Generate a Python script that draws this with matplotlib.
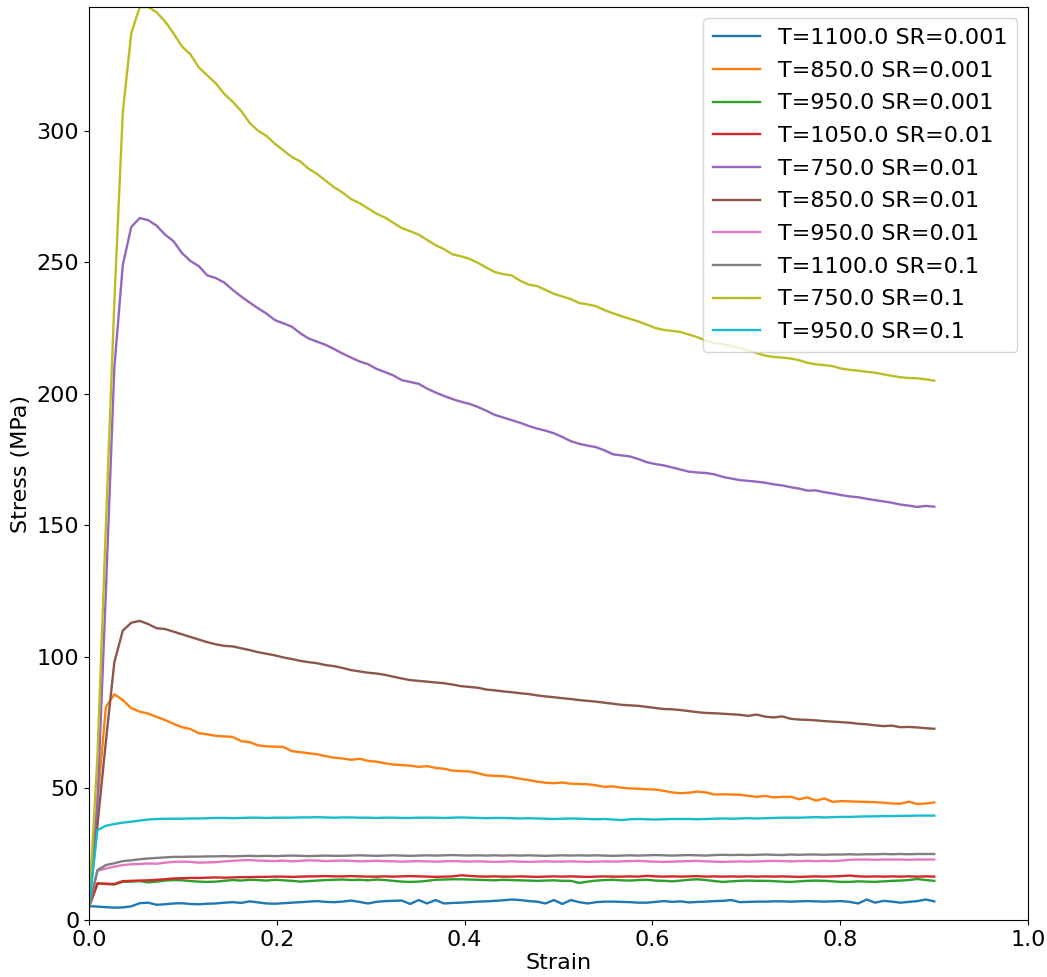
import numpy as np
import matplotlib
matplotlib.use("Agg")
import matplotlib.pyplot as plt

strain = np.linspace(0.0, 0.9, 101)

labels = ["T=1100.0 SR=0.001", "T=850.0 SR=0.001", "T=950.0 SR=0.001",
          "T=1050.0 SR=0.01", "T=750.0 SR=0.01", "T=850.0 SR=0.01",
          "T=950.0 SR=0.01", "T=1100.0 SR=0.1", "T=750.0 SR=0.1",
          "T=950.0 SR=0.1"]

s_1100_0001 = [5.3, 5.1, 4.9, 4.7, 4.8, 5.2, 6.4, 6.6, 5.8, 6.0,
               6.3, 6.4, 6.1, 6.0, 6.2, 6.3, 6.6, 6.8, 6.5, 7.1,
               6.7, 6.3, 6.2, 6.4, 6.6, 6.8, 7.0, 7.2, 6.9, 6.8,
               7.0, 7.4, 6.9, 6.3, 6.9, 7.2, 7.3, 7.4, 6.1, 7.6,
               6.3, 7.6, 6.3, 6.5, 6.6, 6.8, 7.0, 7.1, 7.3, 7.5,
               7.8, 7.6, 7.2, 7.0, 6.3, 7.6, 6.1, 7.6, 6.8, 6.3,
               6.8, 7.0, 7.0, 6.9, 6.8, 6.6, 6.6, 6.9, 7.2, 6.9,
               7.1, 6.7, 6.9, 7.0, 7.2, 7.3, 7.6, 6.8, 6.9, 7.0,
               7.0, 7.1, 7.1, 7.0, 7.1, 7.2, 7.1, 7.0, 7.1, 7.2,
               6.9, 6.3, 7.8, 6.6, 7.3, 7.0, 6.6, 6.9, 7.2, 7.8,
               7.1]

s_850_0001 = [5.0, 45.0, 81.0, 85.8, 83.6, 80.5, 79.2, 78.5, 77.2, 76.0,
              74.6, 73.3, 72.6, 71.0, 70.6, 70.0, 69.8, 69.6, 68.0, 67.6,
              66.4, 66.0, 65.9, 65.8, 64.2, 63.8, 63.4, 63.0, 62.3, 61.7,
              61.4, 60.9, 61.3, 60.5, 60.2, 59.6, 59.1, 58.9, 58.7, 58.2,
              58.5, 57.8, 57.5, 56.8, 56.6, 56.5, 55.8, 55.0, 54.8, 54.7,
              54.3, 53.7, 53.2, 52.6, 52.2, 52.0, 52.3, 51.8, 51.7, 51.6,
              51.2, 50.6, 50.8, 50.3, 50.0, 49.9, 49.7, 49.6, 49.1, 48.5,
              48.2, 48.4, 48.8, 48.5, 47.7, 47.8, 47.7, 47.6, 47.2, 46.8,
              47.2, 46.6, 46.8, 46.9, 45.9, 46.6, 45.4, 46.2, 44.9, 45.2,
              45.1, 45.0, 44.9, 44.8, 44.6, 44.3, 44.2, 45.0, 44.1, 44.3,
              44.7]

s_950_0001 = [5.0, 13.9, 13.7, 13.5, 14.5, 14.6, 14.8, 14.3, 14.6, 15.0,
              15.2, 15.1, 14.8, 14.6, 14.5, 14.6, 14.9, 15.2, 15.0, 15.3,
              15.2, 15.0, 15.3, 15.1, 14.9, 14.6, 14.8, 15.0, 15.2, 15.3,
              15.4, 15.2, 15.3, 15.1, 15.4, 15.2, 14.9, 14.6, 14.5, 14.6,
              14.9, 15.3, 15.4, 15.5, 15.5, 15.4, 15.3, 15.2, 15.1, 15.3,
              15.2, 15.1, 15.0, 14.9, 15.0, 15.1, 14.9, 14.9, 14.1, 14.6,
              15.0, 15.2, 15.3, 15.1, 15.0, 15.2, 15.3, 15.0, 14.9, 14.7,
              15.0, 15.3, 15.5, 15.2, 14.8, 14.5, 14.7, 14.9, 15.0, 14.9,
              14.9, 14.8, 14.6, 14.5, 14.7, 14.9, 15.0, 14.9, 14.7, 14.5,
              14.5, 14.7, 14.6, 14.5, 14.7, 14.9, 15.0, 15.2, 15.6, 15.2,
              14.9]

s_1050_001 = [5.0, 13.9, 13.8, 13.7, 14.8, 14.9, 15.0, 15.1, 15.3, 15.5,
              15.8, 15.9, 16.0, 16.0, 16.1, 16.2, 16.1, 16.2, 16.3, 16.3,
              16.4, 16.4, 16.5, 16.5, 16.4, 16.5, 16.6, 16.6, 16.7, 16.6,
              16.6, 16.7, 16.6, 16.5, 16.5, 16.6, 16.5, 16.6, 16.7, 16.6,
              16.5, 16.4, 16.5, 16.6, 17.0, 16.8, 16.6, 16.5, 16.6, 16.5,
              16.5, 16.6, 16.5, 16.4, 16.5, 16.6, 16.5, 16.6, 16.5, 16.4,
              16.5, 16.6, 16.5, 16.5, 16.6, 16.5, 16.8, 16.6, 16.5, 16.6,
              16.5, 16.6, 16.7, 16.5, 16.6, 16.5, 16.6, 16.5, 16.6, 16.5,
              16.6, 16.5, 16.6, 16.5, 16.4, 16.5, 16.6, 16.5, 16.6, 16.7,
              16.9, 16.6, 16.5, 16.6, 16.5, 16.6, 16.5, 16.6, 16.5, 16.6,
              16.5]

s_750_001 = [5.0, 45.0, 125.0, 210.0, 249.0, 263.4, 266.8, 266.0, 263.9, 260.5,
             258.0, 253.5, 250.5, 248.5, 245.0, 244.0, 242.3, 239.5, 237.0, 234.7,
             232.5, 230.5, 228.0, 226.8, 225.5, 223.0, 221.0, 219.8, 218.6, 217.0,
             215.3, 213.8, 212.3, 211.3, 209.5, 208.3, 207.0, 205.2, 204.5, 203.8,
             202.0, 200.5, 199.2, 198.0, 197.0, 196.2, 195.0, 193.6, 192.0, 191.0,
             190.0, 189.0, 187.8, 186.8, 186.0, 185.0, 183.6, 182.0, 181.0, 180.3,
             179.7, 178.5, 177.0, 176.6, 176.2, 175.2, 174.0, 173.3, 172.8, 172.0,
             171.2, 170.4, 170.1, 169.9, 169.4, 168.4, 167.8, 167.2, 166.9, 166.6,
             166.2, 165.6, 165.2, 164.5, 164.0, 163.2, 163.3, 162.6, 162.1, 161.5,
             161.0, 160.7, 160.1, 159.6, 159.1, 158.6, 157.9, 157.5, 157.0, 157.4,
             157.1]

s_850_001 = [5.5, 36.0, 68.0, 98.0, 110.0, 113.0, 113.7, 112.5, 110.9, 110.6,
             109.6, 108.6, 107.6, 106.6, 105.6, 104.8, 104.2, 104.0, 103.3, 102.6,
             101.8, 101.2, 100.6, 99.8, 99.2, 98.5, 98.0, 97.6, 96.9, 96.5,
             95.8, 95.0, 94.5, 94.0, 93.7, 93.2, 92.5, 91.8, 91.2, 90.9,
             90.6, 90.3, 90.0, 89.5, 88.9, 88.6, 88.3, 87.6, 87.3, 86.9,
             86.6, 86.2, 85.9, 85.4, 85.0, 84.7, 84.3, 84.0, 83.6, 83.3,
             83.0, 82.6, 82.2, 81.8, 81.6, 81.4, 81.0, 80.6, 80.2, 80.1,
             79.8, 79.4, 79.0, 78.7, 78.6, 78.4, 78.2, 78.0, 77.6, 78.1,
             77.3, 77.0, 77.4, 76.5, 76.2, 76.1, 75.9, 75.6, 75.4, 75.2,
             75.0, 74.6, 74.4, 74.0, 73.7, 73.9, 73.3, 73.4, 73.2, 72.9,
             72.7]

s_950_001 = [5.0, 18.7, 19.6, 20.3, 20.9, 21.2, 21.3, 21.5, 21.4, 21.8,
             22.1, 22.2, 22.1, 21.8, 21.9, 22.0, 22.3, 22.5, 22.7, 22.8,
             22.6, 22.5, 22.4, 22.6, 22.3, 22.5, 22.7, 22.6, 22.4, 22.5,
             22.6, 22.5, 22.3, 22.4, 22.5, 22.4, 22.3, 22.2, 22.3, 22.4,
             22.3, 22.2, 22.3, 22.4, 22.3, 22.2, 22.3, 22.2, 22.1, 22.2,
             22.3, 22.2, 22.1, 22.2, 22.3, 22.2, 22.2, 22.3, 22.2, 22.1,
             22.2, 22.3, 22.2, 22.3, 22.4, 22.5, 22.3, 22.2, 22.1, 22.2,
             22.3, 22.4, 22.5, 22.3, 22.2, 22.1, 22.2, 22.3, 22.2, 22.3,
             22.4, 22.5, 22.4, 22.3, 22.4, 22.5, 22.4, 22.5, 22.4, 22.6,
             22.9, 23.0, 23.0, 22.9, 23.0, 23.0, 23.0, 22.9, 23.0, 23.0,
             23.0]

s_1100_01 = [5.0, 19.0, 20.9, 21.6, 22.4, 22.7, 23.1, 23.4, 23.6, 23.8,
             24.0, 24.0, 24.1, 24.1, 24.2, 24.2, 24.3, 24.2, 24.3, 24.4,
             24.3, 24.4, 24.3, 24.4, 24.5, 24.4, 24.3, 24.4, 24.5, 24.4,
             24.4, 24.5, 24.6, 24.5, 24.4, 24.5, 24.6, 24.5, 24.4, 24.5,
             24.6, 24.5, 24.6, 24.7, 24.6, 24.5, 24.6, 24.5, 24.6, 24.5,
             24.6, 24.5, 24.6, 24.5, 24.4, 24.5, 24.6, 24.5, 24.6, 24.5,
             24.6, 24.5, 24.4, 24.5, 24.6, 24.5, 24.6, 24.7, 24.6, 24.5,
             24.6, 24.7, 24.6, 24.5, 24.7, 24.8, 24.7, 24.8, 24.7, 24.8,
             24.9, 24.8, 24.7, 24.9, 24.8, 24.9, 24.9, 24.8, 24.9, 24.9,
             25.0, 24.9, 25.0, 25.0, 25.1, 25.0, 25.1, 25.0, 25.1, 25.1,
             25.1]

s_750_01 = [5.0, 62.0, 150.0, 235.0, 307.0, 337.0, 347.0, 347.0, 345.0, 341.5,
            337.0, 332.0, 329.0, 324.0, 321.0, 318.0, 314.0, 311.0, 307.5, 303.0,
            300.0, 298.0, 295.0, 292.5, 290.0, 288.3, 285.5, 283.5, 281.0, 278.5,
            276.5, 274.0, 272.5, 270.5, 268.5, 267.0, 265.0, 263.0, 261.8, 260.5,
            258.5, 256.5, 255.0, 253.0, 252.3, 251.3, 249.8, 248.0, 246.3, 245.5,
            245.0, 243.0, 241.5, 241.0, 239.5, 238.0, 237.0, 236.0, 234.5, 234.0,
            233.3, 231.8, 230.6, 229.5, 228.5, 227.5, 226.3, 225.0, 224.3, 223.9,
            223.5, 222.5, 221.5, 220.2, 219.2, 218.8, 218.2, 217.3, 216.5, 215.5,
            214.5, 214.0, 213.8, 213.4, 212.8, 211.8, 211.2, 210.9, 210.5, 209.6,
            209.1, 208.8, 208.4, 208.0, 207.4, 206.8, 206.3, 206.0, 205.9, 205.5,
            205.0]

s_950_01 = [5.0, 34.2, 35.8, 36.5, 37.0, 37.4, 37.8, 38.2, 38.4, 38.5,
            38.5, 38.5, 38.6, 38.6, 38.7, 38.8, 38.8, 38.7, 38.8, 38.9,
            38.9, 38.8, 38.9, 38.9, 38.9, 39.0, 39.0, 39.1, 39.0, 38.9,
            39.0, 39.0, 38.9, 38.9, 38.8, 38.9, 38.9, 38.8, 38.8, 38.9,
            38.9, 38.9, 38.8, 38.9, 39.0, 38.9, 38.8, 38.7, 38.8, 38.8,
            38.7, 38.6, 38.7, 38.6, 38.5, 38.4, 38.5, 38.6, 38.5, 38.4,
            38.3, 38.4, 38.2, 38.0, 38.3, 38.4, 38.3, 38.2, 38.3, 38.4,
            38.4, 38.4, 38.3, 38.4, 38.5, 38.6, 38.5, 38.6, 38.7, 38.6,
            38.7, 38.8, 38.9, 38.9, 38.9, 39.0, 39.1, 39.0, 39.1, 39.2,
            39.2, 39.3, 39.4, 39.4, 39.5, 39.5, 39.6, 39.6, 39.7, 39.7,
            39.7]

series = [s_1100_0001, s_850_0001, s_950_0001, s_1050_001, s_750_001,
          s_850_001, s_950_001, s_1100_01, s_750_01, s_950_01]

plt.rcParams['font.family'] = ['DejaVu Sans']
fig = plt.figure(figsize=(10.47, 9.77), dpi=100)
ax = fig.add_axes([0.085, 0.0583, 0.897, 0.9345])

for lab, vals in zip(labels, series):
    ax.plot(strain, vals, label=lab, linewidth=1.7)

ax.set_xlim(0, 1.0)
ax.set_ylim(0, 347)
ax.set_xticks([0.0, 0.2, 0.4, 0.6, 0.8, 1.0])
ax.set_yticks([0, 50, 100, 150, 200, 250, 300])
ax.tick_params(labelsize=16)
ax.set_xlabel("Strain", fontsize=16, labelpad=2)
ax.set_ylabel("Stress (MPa)", fontsize=16)
ax.legend(loc="upper right", fontsize=16, labelspacing=0.57,
          handlelength=2.1, borderpad=0.45)

fig.savefig("out.png", dpi=100)
